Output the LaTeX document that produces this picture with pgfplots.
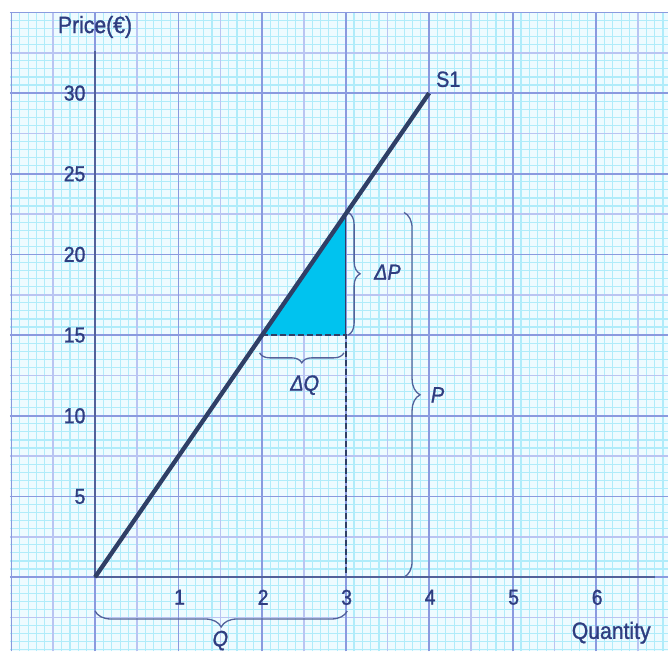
\documentclass[border=0pt]{standalone}
\usepackage{pgfplots}
\pgfplotsset{compat=1.18}
\usetikzlibrary{decorations.pathreplacing}
\usepackage{fontspec}
\setmainfont{Liberation Sans}[FakeStretch=0.9, FakeBold=1.2]

% graph-paper and ink colours
\definecolor{paper}{HTML}{EEFBFF}
\definecolor{gminor}{HTML}{B0ECFA}
\definecolor{gmid}{HTML}{BAC4F2}
\definecolor{gmajor}{HTML}{8A9ADF}
\definecolor{axisc}{HTML}{52619A}
\definecolor{supply}{HTML}{2F3F66}
\definecolor{tri}{HTML}{00C3EF}
\definecolor{ink}{HTML}{2E3D80}

\begin{document}
\begin{tikzpicture}
\begin{axis}[
  x=83.5pt, y=16.13pt,
  xmin=-1.138, xmax=6.86,
  ymin=-4.59, ymax=35.77,
  axis lines=middle,
  axis line style={draw=none},
  axis on top=true,
  tick style={draw=none},
  xtick={1,2,3,4,5,6},
  ytick={5,10,15,20,25,30},
  /pgf/number format/assume math mode=true,
  ticklabel style={font=\fontsize{21.5}{21.5}\selectfont, text=ink},
  xticklabel style={yshift=-7pt, xshift=1pt},
  yticklabel style={xshift=-4pt},
]
% paper
\fill[paper] (-1.02,-4.6) rectangle (6.86,35.05);
% minor rulings
\pgfplotsinvokeforeach{-1.0,-0.9,...,6.85}{
  \draw[gminor, line width=1.1pt] (#1,-4.6) -- (#1,35.05);
}
\pgfplotsinvokeforeach{-4.5,-4.0,...,35.01}{
  \draw[gminor, line width=1.1pt] (-1.02,#1) -- (6.86,#1);
}
% half-unit rulings
\pgfplotsinvokeforeach{-0.5,0.5,...,6.6}{
  \draw[gmid, line width=1.6pt] (#1,-4.6) -- (#1,35.05);
}
\pgfplotsinvokeforeach{-2.5,2.5,...,33}{
  \draw[gmid, line width=1.6pt] (-1.02,#1) -- (6.86,#1);
}
% unit rulings
\pgfplotsinvokeforeach{-1,0,...,6}{
  \draw[gmajor, line width=1.8pt] (#1,-4.6) -- (#1,35.05);
}
\pgfplotsinvokeforeach{0,5,...,35}{
  \draw[gmajor, line width=1.8pt] (-1.02,#1) -- (6.86,#1);
}

% change in price and quantity
\addplot[fill=tri, draw=none] coordinates {(2,15) (3,15) (3,22.5)} -- cycle;
\addplot[supply, line width=1.6pt] coordinates {(3,15) (3,22.5)};
\addplot[supply, line width=2.2pt, dash pattern=on 6pt off 3pt] coordinates {(2,15) (3,15) (3,0)};

% axes
\draw[axisc, line width=2.6pt] (0,32.6) -- (0,0) -- (6.7,0);

% braces
\begin{scope}[axisc, line width=1.3pt, decoration={brace, amplitude=12pt}]
  \draw[decorate] (3.03,22.6) -- (3.03,15);
  \draw[decorate, decoration={amplitude=16pt}] (3.7,22.6) -- (3.7,0);
  \draw[decorate, decoration={amplitude=10pt}] (2.98,13.9) -- (1.97,13.9);
  \draw[decorate, decoration={amplitude=16pt}] (3.02,-2.1) -- (0,-2.1);
\end{scope}

% supply curve
\addplot[supply, line width=4.3pt] coordinates {(0,0) (4,30)};

% annotations
\begin{scope}[text=ink, font=\fontsize{22}{22}\selectfont]
  \node[anchor=west] at (3.3,18.9) {\textit{ΔP}};
  \node at (2.51,11.9) {\textit{ΔQ}};
  \node[anchor=west] at (3.98,11.3) {\textit{P}};
  \node[anchor=south, inner sep=0pt] at (1.5,-4.55) {\textit{Q}};
  \node[anchor=south west, inner sep=1pt] at (4.07,30.3) {S1};
  \node[font=\fontsize{23.5}{23.5}\selectfont] at (0,34.1) {Price(€)};
  \node[font=\fontsize{23.5}{23.5}\selectfont] at (6.18,-3.45) {Quantity};
\end{scope}
\end{axis}
\pgfresetboundingbox
\path[use as bounding box] (current axis.south west) rectangle (current axis.north east);
\end{tikzpicture}
\end{document}
